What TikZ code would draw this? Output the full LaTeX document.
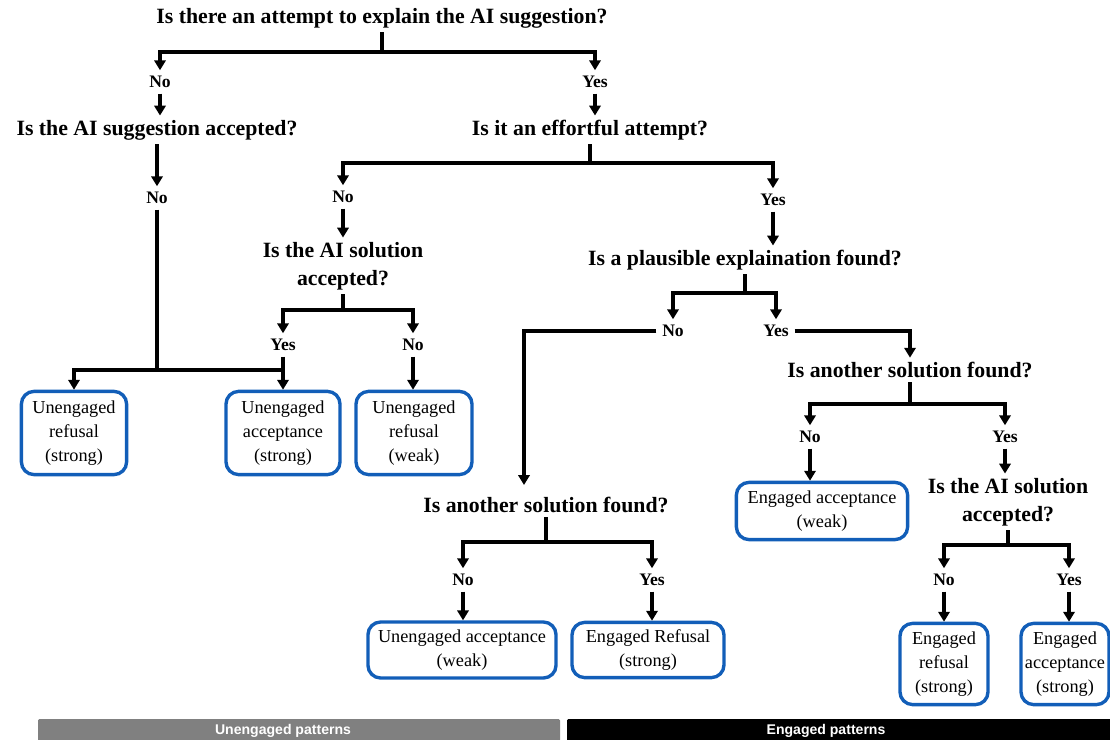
\documentclass[tikz,border=0pt]{standalone}
\usepackage{fontspec}
\setmainfont{Liberation Serif}
\newfontfamily\barfont{Liberation Sans}
\usetikzlibrary{positioning, arrows.meta}
\definecolor{boxblue}{RGB}{18,94,184}
\definecolor{bargrey}{RGB}{128,128,128}
\tikzstyle{question} = [font=\bfseries\fontsize{15.5}{20}\selectfont,
    align=center, inner sep=3pt]
\tikzstyle{answer} = [font=\bfseries\fontsize{12.5}{15}\selectfont, inner sep=4pt]
\tikzstyle{outcome} = [draw=boxblue, line width=2.4pt, rounded corners=9pt,
    align=center, font=\fontsize{13}{17}\selectfont, inner sep=1pt]
\tikzstyle{branch} = [line width=2.2pt]
\tikzstyle{arr} = [branch, -{Triangle[width=8pt,length=7pt]}]
\tikzstyle{bartext} = [text=white, font=\barfont\bfseries\fontsize{10}{12}\selectfont]

\begin{document}
\begin{tikzpicture}[x=0.025cm, y=-0.025cm]
        \useasboundingbox (0,0) rectangle (1110,740);

        % questions and answers
        \node[question] (q1) at (382,18) {Is there an attempt to explain the AI suggestion?};
        \node[answer] (no1) at (160,82) {No};
        \node[answer] (yes1) at (595,82) {Yes};
        \node[question] (q2) at (157,130) {Is the AI suggestion accepted?};
        \node[question] (q3) at (590,130) {Is it an effortful attempt?};
        \node[answer] (no2) at (157,198) {No};
        \node[answer] (no3) at (343,197) {No};
        \node[answer] (yes3) at (773,200) {Yes};
        \node[question] (q4) at (343,266) {Is the AI solution\\accepted?};
        \node[question] (q5) at (745,260) {Is a plausible explaination found?};
        \node[answer] (yes4) at (283,345) {Yes};
        \node[answer] (no4) at (413,345) {No};
        \node[answer] (no5) at (673,331) {No};
        \node[answer] (yes5) at (776,331) {Yes};
        \node[question] (q6) at (910,370) {Is another solution found?};
        \node[answer] (no6) at (810,437) {No};
        \node[answer] (yes6) at (1005,437) {Yes};
        \node[question] (q7) at (1008,502) {Is the AI solution\\accepted?};
        \node[answer] (no7) at (944,580) {No};
        \node[answer] (yes7) at (1069,580) {Yes};
        \node[question] (q8) at (546,505) {Is another solution found?};
        \node[answer] (no8) at (463,580) {No};
        \node[answer] (yes8) at (652,580) {Yes};

        % outcomes
        \node[outcome, minimum width=2.63cm, minimum height=2.08cm]
            (b1) at (74,433) {Unengaged\\refusal\\(strong)};
        \node[outcome, minimum width=2.85cm, minimum height=2.08cm]
            (b2) at (283,433) {Unengaged\\acceptance\\(strong)};
        \node[outcome, minimum width=2.9cm, minimum height=2.08cm]
            (b3) at (414,433) {Unengaged\\refusal\\(weak)};
        \node[outcome, minimum width=4.28cm, minimum height=1.43cm]
            (b4) at (822,511) {Engaged acceptance\\(weak)};
        \node[outcome, minimum width=4.7cm, minimum height=1.4cm]
            (b5) at (462,650) {Unengaged acceptance\\(weak)};
        \node[outcome, minimum width=3.8cm, minimum height=1.38cm]
            (b6) at (648,650) {Engaged Refusal\\(strong)};
        \node[outcome, minimum width=2.2cm, minimum height=2.03cm]
            (b7) at (944,664) {Engaged\\refusal\\(strong)};
        \node[outcome, minimum width=2.2cm, minimum height=2.03cm]
            (b8) at (1065,664) {Engaged\\acceptance\\(strong)};

        % connectors
        \draw[branch] (q1.south) -- (382,52) coordinate (f1);
        \draw[arr] (f1) -| (no1);
        \draw[arr] (f1) -| (yes1);
        \draw[arr] (no1.south) -- (no1.south |- q2.north);
        \draw[arr] (yes1.south) -- (yes1.south |- q3.north);
        \draw[arr] (q2.south -| no2) -- (no2.north);
        \draw[branch] (no2) -- (157,370) coordinate (j1);
        \draw[arr] (j1) -| (b1);
        \draw[branch] (j1) -- (j1 -| b2);

        \draw[branch] (q3.south) -- (590,163) coordinate (f3);
        \draw[arr] (f3) -| (no3);
        \draw[arr] (f3) -| (yes3);
        \draw[arr] (no3.south) -- (no3.south |- q4.north);
        \draw[arr] (yes3.south) -- (yes3.south |- q5.north);

        \draw[branch] (q4.south) -- (343,310) coordinate (f4);
        \draw[arr] (f4) -| (yes4);
        \draw[arr] (f4) -| (no4);
        \draw[arr] (yes4.south) -- (yes4.south |- b2.north);
        \draw[arr] (no4.south) -- (no4.south |- b3.north);

        \draw[branch] (q5.south) -- (745,293) coordinate (f5);
        \draw[arr] (f5) -| (no5);
        \draw[arr] (f5) -| (yes5);
        \coordinate (c5) at (524,485);
        \draw[arr] (no5.west) -| (c5);
        \draw[arr] (yes5.east) -| (q6);

        \draw[branch] (q6.south) -- (910,404) coordinate (f6);
        \draw[arr] (f6) -| (no6);
        \draw[arr] (f6) -| (yes6);
        \draw[arr] (no6.south) -- (no6.south |- b4.north);
        \draw[arr] (yes6.south) -- (yes6.south |- q7.north);

        \draw[branch] (q7.south) -- (1008,545) coordinate (f7);
        \draw[arr] (f7) -| (no7);
        \draw[arr] (f7) -| (yes7);
        \draw[arr] (no7.south) -- (no7.south |- b7.north);
        \draw[arr] (yes7.south) -- (yes7.south |- b8.north);

        \draw[branch] (q8.south) -- (546,542) coordinate (f8);
        \draw[arr] (f8) -| (no8);
        \draw[arr] (f8) -| (yes8);
        \draw[arr] (no8.south) -- (no8.south |- b5.north);
        \draw[arr] (yes8.south) -- (yes8.south |- b6.north);

        % pattern bars
        \fill[bargrey, rounded corners=1pt] (38,719) rectangle (560,745);
        \fill[black, rounded corners=1pt] (567,719) rectangle (1115,745);
        \node[bartext] (ulabel) at (283,731) {Unengaged patterns};
        \node[bartext] (elabel) at (826,731) {Engaged patterns};
\end{tikzpicture}
\end{document}
